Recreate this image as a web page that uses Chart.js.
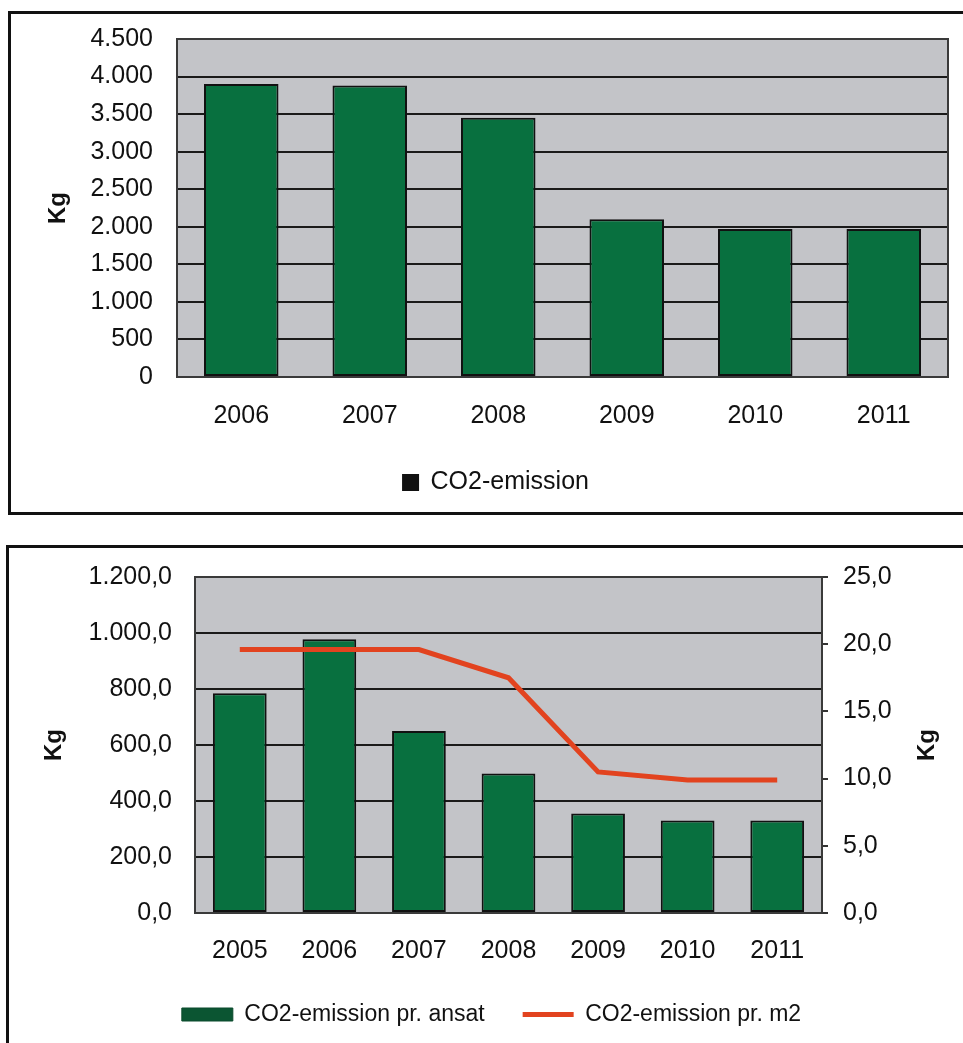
<!DOCTYPE html>
<html lang="da">
<head>
<meta charset="utf-8">
<title>CO2-emission</title>
<script src="https://cdn.jsdelivr.net/npm/chart.js@4.4.1/dist/chart.umd.min.js"></script>
<style>
html, body { margin: 0; padding: 0; background: #fff; width: 963px; height: 1043px; overflow: hidden; }
.ramme { position: absolute; border: 3px solid #111; box-sizing: border-box; }
canvas { position: absolute; left: 0; }
</style>
</head>
<body>
<div class="ramme" style="left:8px; top:11px; width:1000px; height:504px;"></div>
<div class="ramme" style="left:6px; top:545px; width:1000px; height:600px;"></div>
<canvas id="chartEmission" width="963" height="512" style="top:0px;"></canvas>
<canvas id="chartNoegletal" width="963" height="513" style="top:530px;"></canvas>

<script>
// =============================
// CO2-emission (data)
// =============================
const aarEmission = ['2006', '2007', '2008', '2009', '2010', '2011'];
const co2Emission = [3900, 3880, 3450, 2100, 1970, 1970];

const aarNoegletal = ['2005', '2006', '2007', '2008', '2009', '2010', '2011'];
const co2PrAnsat = [785, 978, 650, 498, 355, 330, 330];
const co2PrM2 = [19.6, 19.6, 19.6, 17.5, 10.5, 9.9, 9.9];

const groen = '#08703f';
const roed = '#e2431f';
const graa = '#c3c4c8';

Chart.defaults.font.family = "'Liberation Sans', Arial, sans-serif";
Chart.defaults.color = '#111';
Chart.defaults.animation = false;

// dansk talformat: 4.500 / 1.200,0
function fmtDk(v, dec) {
    const [heltal, decimaler] = Number(v).toFixed(dec).split('.');
    const medPunktum = heltal.replace(/\B(?=(\d{3})+(?!\d))/g, '.');
    return decimaler ? medPunktum + ',' + decimaler : medPunktum;
}

// grå plotbaggrund + ramme om plotområdet
const plotBaggrund = {
    id: 'plotBaggrund',
    beforeDraw(chart) {
        const { ctx, chartArea: a } = chart;
        ctx.save();
        ctx.fillStyle = graa;
        ctx.fillRect(a.left, a.top, a.width, a.height);
        ctx.restore();
    },
    beforeDatasetsDraw(chart) {
        const { ctx, chartArea: a } = chart;
        ctx.save();
        ctx.strokeStyle = '#3a3a3a';
        ctx.lineWidth = 2;
        ctx.strokeRect(a.left, a.top, a.width, a.height);
        ctx.restore();
    }
};

// aksetitel til højre, drejet samme vej som den venstre
const hoejreTitel = {
    id: 'hoejreTitel',
    afterDraw(chart, args, opts) {
        const s = chart.scales.y1;
        if (!s) return;
        const { ctx } = chart;
        ctx.save();
        ctx.translate(opts.x, (s.top + s.bottom) / 2);
        ctx.rotate(-Math.PI / 2);
        ctx.font = "bold 24px 'Liberation Sans', Arial, sans-serif";
        ctx.textAlign = 'center';
        ctx.textBaseline = 'middle';
        ctx.fillStyle = '#111';
        ctx.fillText(opts.text, 0, 0);
        ctx.restore();
    }
};

// 1️⃣ CO2-emission pr. år
new Chart(document.getElementById('chartEmission'), {
    type: 'bar',
    data: {
        labels: aarEmission,
        datasets: [{
            label: 'CO2-emission',
            data: co2Emission,
            backgroundColor: groen,
            borderColor: '#111',
            borderWidth: 2,
            borderSkipped: false,
            categoryPercentage: 1,
            barPercentage: 0.58
        }]
    },
    options: {
        responsive: false,
        layout: { padding: { left: 44, top: 39, right: 15, bottom: 7 } },
        plugins: {
            tooltip: { enabled: false },
            legend: {
                position: 'bottom',
                labels: {
                    font: { size: 25 },
                    boxWidth: 15,
                    boxHeight: 15,
                    padding: 10,
                    generateLabels: chart => Chart.defaults.plugins.legend.labels.generateLabels(chart)
                        .map(l => ({ ...l, fillStyle: '#111', strokeStyle: '#111' }))
                }
            }
        },
        scales: {
            x: {
                grid: { display: false, drawTicks: false },
                border: { display: false },
                ticks: { font: { size: 25 }, padding: 24 },
                afterFit: s => { s.height = 83; }
            },
            y: {
                min: 0,
                max: 4500,
                ticks: { stepSize: 500, font: { size: 25 }, padding: 24, callback: v => fmtDk(v, 0) },
                grid: { color: '#1a1a1a', lineWidth: 2, drawTicks: false },
                border: { display: false },
                title: { display: true, text: 'Kg', font: { size: 24, weight: 'bold' }, padding: { top: 0, bottom: 0 } },
                afterFit: s => { s.width = 177 - 44; }
            }
        }
    },
    plugins: [plotBaggrund]
});

// 2️⃣ CO2-emission pr. ansat og pr. m2
new Chart(document.getElementById('chartNoegletal'), {
    type: 'bar',
    data: {
        labels: aarNoegletal,
        datasets: [{
            label: 'CO2-emission pr. ansat',
            data: co2PrAnsat,
            backgroundColor: groen,
            borderColor: '#111',
            borderWidth: 2,
            borderSkipped: false,
            categoryPercentage: 1,
            barPercentage: 0.6,
            yAxisID: 'y',
            order: 2
        }, {
            type: 'line',
            label: 'CO2-emission pr. m2',
            data: co2PrM2,
            borderColor: roed,
            backgroundColor: roed,
            borderWidth: 5,
            pointRadius: 0,
            tension: 0,
            yAxisID: 'y1',
            order: 1
        }]
    },
    options: {
        responsive: false,
        layout: { padding: { left: 40, top: 47, right: 20, bottom: 7 } },
        plugins: {
            tooltip: { enabled: false },
            hoejreTitel: { x: 927, text: 'Kg' },
            legend: {
                position: 'bottom',
                labels: {
                    font: { size: 23 },
                    usePointStyle: true,
                    pointStyleWidth: 51,
                    boxHeight: 13,
                    padding: 38,
                    sort: (a, b) => a.datasetIndex - b.datasetIndex,
                    generateLabels: chart => Chart.defaults.plugins.legend.labels.generateLabels(chart)
                        .map(l => l.datasetIndex === 0
                            ? { ...l, pointStyle: 'rect', fillStyle: '#0b5532', strokeStyle: '#0b4a2c', lineWidth: 1 }
                            : { ...l, pointStyle: 'line', strokeStyle: roed, lineWidth: 5 })
                }
            }
        },
        scales: {
            x: {
                grid: { display: false, drawTicks: false },
                border: { display: false },
                ticks: { font: { size: 25 }, padding: 23 },
                afterFit: s => { s.height = 52; }
            },
            y: {
                position: 'left',
                min: 0,
                max: 1200,
                ticks: { stepSize: 200, font: { size: 25 }, padding: 23, callback: v => fmtDk(v, 1) },
                grid: { color: '#1a1a1a', lineWidth: 2, drawTicks: false },
                border: { display: false },
                title: { display: true, text: 'Kg', font: { size: 24, weight: 'bold' }, padding: { top: 0, bottom: 0 } },
                afterFit: s => { s.width = 195 - 40; }
            },
            y1: {
                position: 'right',
                min: 0,
                max: 25,
                ticks: { stepSize: 5, font: { size: 25 }, padding: 15, callback: v => fmtDk(v, 1) },
                grid: { drawOnChartArea: false, drawTicks: true, tickLength: 6, color: '#333', lineWidth: 2 },
                border: { display: false },
                afterFit: s => { s.width = 963 - 20 - 822; }
            }
        }
    },
    plugins: [plotBaggrund, hoejreTitel]
});
</script>
</body>
</html>
